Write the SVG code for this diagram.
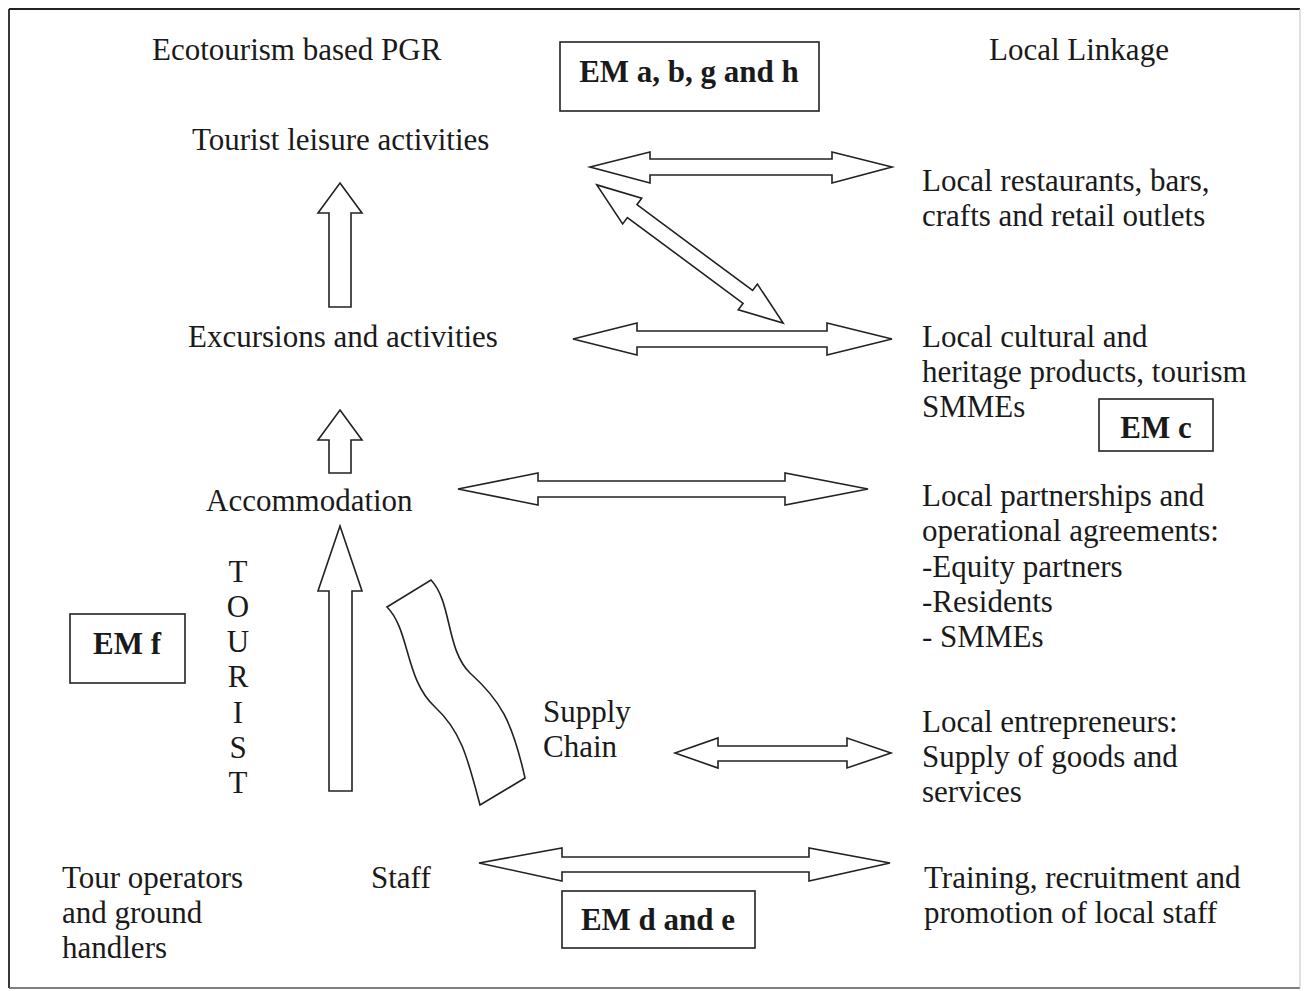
<svg xmlns="http://www.w3.org/2000/svg" width="1306" height="991" viewBox="0 0 1306 991">
<style>
text{font-family:"Liberation Serif","Times New Roman",serif;font-size:31px;fill:#1a1a1a}
.b{font-weight:bold;text-anchor:middle}
.box{fill:#fff;stroke:#222;stroke-width:1.6}
.arr{fill:#fff;stroke:#222;stroke-width:1.6;stroke-linejoin:miter}
</style>
<rect width="1306" height="991" fill="#fff"/>
<g id="frame">
<line x1="9" y1="9" x2="1300" y2="9" stroke="#222" stroke-width="2.2"/>
<line x1="9" y1="9" x2="9" y2="988" stroke="#222" stroke-width="1.8"/>
<line x1="9" y1="988" x2="1300" y2="988" stroke="#555" stroke-width="1.4"/>
<line x1="1300" y1="9" x2="1300" y2="988" stroke="#ccc" stroke-width="1.2"/>
</g>
<g id="headings">
<text x="152" y="60">Ecotourism based PGR</text>
<text x="989" y="60">Local Linkage</text>
</g>
<g id="em-abgh"><rect class="box" x="560" y="42" width="259" height="69"/><text class="b" x="689" y="82">EM a, b, g and h</text></g>
<g id="em-c"><rect class="box" x="1099" y="399" width="114" height="52"/><text class="b" x="1156" y="438">EM c</text></g>
<g id="em-f"><rect class="box" x="70" y="614" width="115" height="69"/><text class="b" x="127" y="654">EM f</text></g>
<g id="em-de"><rect class="box" x="562" y="891" width="193" height="57"/><text class="b" x="658" y="930">EM d and e</text></g>
<g id="leisure"><text x="192" y="150">Tourist leisure activities</text></g>
<g id="excursions"><text x="188" y="347">Excursions and activities</text></g>
<g id="accommodation"><text x="206" y="511">Accommodation</text></g>
<g id="tourist">
<text x="238" y="582" text-anchor="middle">T</text>
<text x="238" y="617" text-anchor="middle">O</text>
<text x="238" y="652" text-anchor="middle">U</text>
<text x="238" y="687" text-anchor="middle">R</text>
<text x="238" y="723" text-anchor="middle">I</text>
<text x="238" y="758" text-anchor="middle">S</text>
<text x="238" y="793" text-anchor="middle">T</text>
</g>
<g id="supply-chain"><text x="543" y="722">Supply</text><text x="543" y="757">Chain</text></g>
<g id="tour-operators"><text x="62" y="888">Tour operators</text><text x="62" y="923">and ground</text><text x="62" y="958">handlers</text></g>
<g id="staff"><text x="371" y="888">Staff</text></g>
<g id="restaurants"><text x="922" y="191">Local restaurants, bars,</text><text x="922" y="226">crafts and retail outlets</text></g>
<g id="cultural"><text x="922" y="347">Local cultural and</text><text x="922" y="382">heritage products, tourism</text><text x="922" y="417">SMMEs</text></g>
<g id="partnerships"><text x="922" y="506">Local partnerships and</text><text x="922" y="541">operational agreements:</text><text x="922" y="577">-Equity partners</text><text x="922" y="612">-Residents</text><text x="922" y="647">- SMMEs</text></g>
<g id="entrepreneurs"><text x="922" y="732">Local entrepreneurs:</text><text x="922" y="767">Supply of goods and</text><text x="922" y="802">services</text></g>
<g id="training"><text x="924" y="888">Training, recruitment and</text><text x="924" y="923">promotion of local staff</text></g>
<g id="connectors">
<path class="arr" d="M590,167 L650,152 L650,159 L832,159 L832,152 L892,167 L832,183 L832,175 L650,175 L650,183 Z"/>
<path class="arr" transform="translate(690,254) rotate(36.57)" d="M-116,0 L-72,-16 L-72,-8 L72,-8 L72,-16 L116,0 L72,16 L72,8 L-72,8 L-72,16 Z"/>
<path class="arr" d="M573,339 L637,323 L637,331 L827,331 L827,323 L892,339 L827,355 L827,347 L637,347 L637,355 Z"/>
<path class="arr" d="M458,489 L538,473 L538,481 L785,481 L785,473 L868,489 L785,505 L785,497 L538,497 L538,505 Z"/>
<path class="arr" d="M675,753 L718,738 L718,746 L847,746 L847,738 L891,753 L847,768 L847,761 L718,761 L718,768 Z"/>
<path class="arr" d="M479,863 L562,848 L562,857 L809,857 L809,848 L890,863 L809,881 L809,872 L562,872 L562,881 Z"/>
<path class="arr" d="M340,183 L362,213 L351,213 L351,307 L329,307 L329,213 L318,213 Z"/>
<path class="arr" d="M340,410 L362,440 L351,440 L351,473 L329,473 L329,440 L318,440 Z"/>
<path class="arr" d="M340,526 L362,591 L352,591 L352,791 L329,791 L329,591 L318,591 Z"/>
<path class="arr" d="M387,607 L431,580 C452,602 446,650 470,673 C500,700 512,720 525,778 L480,805 C468,760 462,732 435,707 C405,680 410,630 387,607 Z"/>
</g>
</svg>
